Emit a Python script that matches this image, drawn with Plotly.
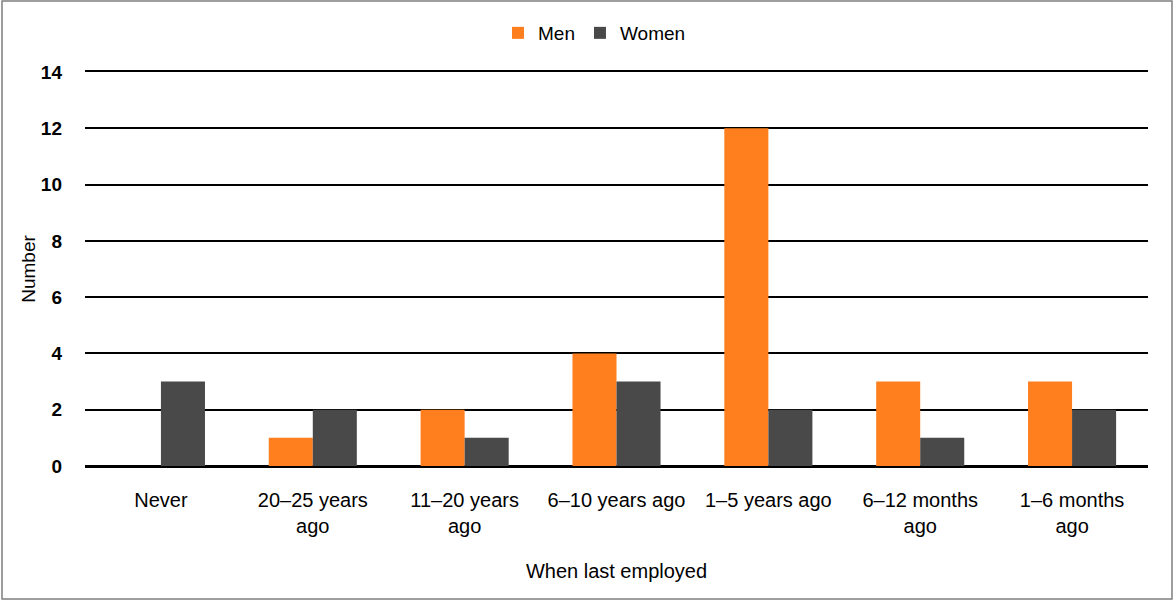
import plotly.graph_objects as go

categories = ["Never", "20–25 years<br>ago", "11–20 years<br>ago", "6–10 years ago",
              "1–5 years ago", "6–12 months<br>ago", "1–6 months<br>ago"]
men = [0, 1, 2, 4, 12, 3, 3]
women = [3, 2, 1, 3, 2, 1, 2]
y_ticks = [0, 2, 4, 6, 8, 10, 12, 14]

W, H = 1176, 601
L, R, T, B = 85, 28, 72, 135
pw, ph = W - L - R, H - T - B

fig = go.Figure()
fig.add_trace(go.Bar(name="Men", x=categories, y=men, marker_color="#FF7F1E",
                     marker_line_width=0))
fig.add_trace(go.Bar(name="Women", x=categories, y=women, marker_color="#494949",
                     marker_line_width=0))

font = "Liberation Sans, Arial, sans-serif"
fig.update_layout(
    width=W, height=H,
    margin=dict(l=L, r=R, t=T, b=B),
    barmode="group", bargap=0.42, bargroupgap=0,
    plot_bgcolor="white", paper_bgcolor="white",
    font=dict(family=font, size=20, color="#000"),
    legend=dict(orientation="h", x=0.5 - 22 / pw, xanchor="center", y=1 + 39 / ph,
                yanchor="middle", font=dict(size=19), itemwidth=30, traceorder="normal"),
    xaxis=dict(showgrid=False, showline=True, mirror=True, linecolor="#000", linewidth=1.5,
               ticks="", tickfont=dict(size=20), ticklabelstandoff=15,
               title=dict(text="When last employed", font=dict(size=20), standoff=28)),
    yaxis=dict(range=[0, 14], tickvals=y_ticks, showgrid=True, gridcolor="#000",
               gridwidth=1.5, zeroline=True, zerolinecolor="#000", zerolinewidth=2,
               tickfont=dict(size=19, family="Liberation Sans, Arial", weight="bold"),
               ticklabelstandoff=22,
               title=dict(text="Number", font=dict(size=19), standoff=0)),
    shapes=[dict(type="rect", xref="paper", yref="paper",
                 x0=(2 - L) / pw, x1=(1172 - L) / pw,
                 y0=(H - 599 - B) / ph, y1=(H - 1 - B) / ph,
                 line=dict(color="#7f7f7f", width=1.5), fillcolor="rgba(0,0,0,0)",
                 layer="below")],
)
fig.write_html("out.html")
